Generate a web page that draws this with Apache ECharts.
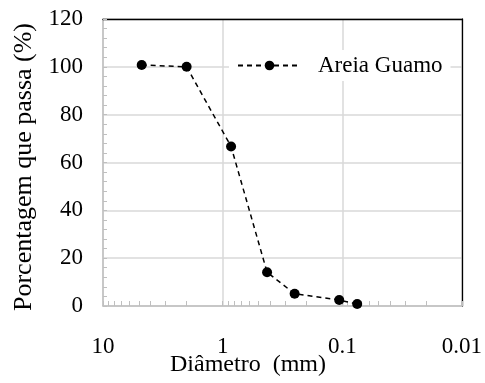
<!DOCTYPE html>
<html>
<head>
<meta charset="utf-8">
<script src="https://cdn.jsdelivr.net/npm/echarts@6/dist/echarts.min.js"></script>
<style>
html,body{margin:0;padding:0;background:#fff;}
#c{width:485px;height:383px;}
</style>
</head>
<body>
<div id="c"></div>
<script>
var seriesName = 'Areia Guamo';
var diameters = [4.75, 2.0, 0.85, 0.425, 0.25, 0.106, 0.075];
var passing = [100.8, 100, 66.7, 14.1, 5.1, 2.5, 0.8];
var xTickLabels = ['10', '1', '0.1', '0.01'];
var yTitle = 'Porcentagem que passa (%)';
var xTitle = 'Diâmetro  (mm)';

var FONT = 'Liberation Serif';
var FS = 23;
var chart = echarts.init(document.getElementById('c'));
var data = diameters.map(function (d, i) { return [d, passing[i]]; });

chart.setOption({
  animation: false,
  backgroundColor: '#fff',
  grid: { left: 103, right: 22, top: 19, bottom: 77 },
  legend: {
    show: true,
    data: [seriesName],
    left: 229, top: 50,
    padding: [4, 8, 4, 8],
    backgroundColor: '#fff',
    itemWidth: 63, itemHeight: 12,
    textStyle: { fontFamily: FONT, fontSize: FS, color: '#000', padding: [0, 0, 0, 12] }
  },
  xAxis: [{
    type: 'log', logBase: 10, min: 0.01, max: 10, inverse: true,
    axisLine: { show: true, onZero: false, lineStyle: { color: '#bfbfbf', width: 1.5 } },
    axisTick: { show: true, inside: true, length: 5, lineStyle: { color: '#bfbfbf' } },
    minorTick: { show: true, splitNumber: 9, length: 5, lineStyle: { color: '#bfbfbf', width: 1 } },
    splitLine: { show: true, lineStyle: { color: '#d9d9d9', width: 1.5 } },
    axisLabel: {
      fontFamily: FONT, fontSize: FS, color: '#000', margin: 29,
      formatter: function (v) {
        var idx = Math.round(1 - Math.log10(v));
        return xTickLabels[idx] !== undefined ? xTickLabels[idx] : '';
      }
    }
  }, {
    type: 'value', position: 'top', min: 0, max: 1,
    axisLine: { show: true, onZero: false, lineStyle: { color: '#000', width: 1.3 } },
    axisTick: { show: false }, axisLabel: { show: false }, splitLine: { show: false }
  }],
  yAxis: [{
    type: 'value', min: 0, max: 120, interval: 20,
    axisLine: { show: true, onZero: false, lineStyle: { color: '#bfbfbf', width: 1.5 } },
    axisTick: { show: true, inside: true, length: 4, lineStyle: { color: '#bfbfbf' } },
    minorTick: { show: true, splitNumber: 5, length: 4, lineStyle: { color: '#bfbfbf', width: 1 } },
    splitLine: { show: true, lineStyle: { color: '#d9d9d9', width: 1.5 } },
    axisLabel: { fontFamily: FONT, fontSize: FS, color: '#000', margin: 20 }
  }, {
    type: 'value', position: 'right', min: 0, max: 1,
    axisLine: { show: true, onZero: false, lineStyle: { color: '#000', width: 1.3 } },
    axisTick: { show: false }, axisLabel: { show: false }, splitLine: { show: false }
  }],
  graphic: [{
    type: 'text', left: 170, top: 353,
    style: { text: xTitle, font: '24px "' + FONT + '"', fill: '#000' }
  }, {
    type: 'text', x: 24, y: 167, rotation: Math.PI / 2,
    style: { text: yTitle, font: '26px "' + FONT + '"', fill: '#000', align: 'center', verticalAlign: 'middle' }
  }],
  series: [{
    name: seriesName,
    type: 'line',
    data: data,
    symbol: 'circle', symbolSize: 10,
    itemStyle: { color: '#000' },
    lineStyle: { color: '#000', width: 1.5, type: [5, 4] },
    z: 5
  }]
});
</script>
</body>
</html>
